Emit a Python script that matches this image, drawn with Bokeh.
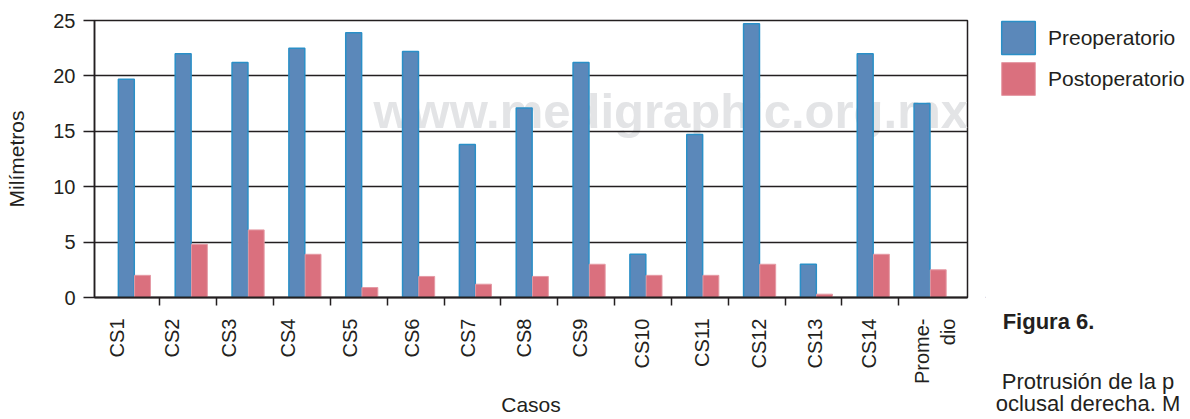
import math
import numpy as np
from bokeh.plotting import figure
from bokeh.layouts import row
from bokeh.models import (Range1d, FixedTicker, SingleIntervalTicker, Legend,
                          LegendItem, Label, ColumnDataSource)
from bokeh.embed import file_html
from bokeh.resources import INLINE

# ---------------- data ----------------
categories = ["CS1", "CS2", "CS3", "CS4", "CS5", "CS6", "CS7", "CS8", "CS9",
              "CS10", "CS11", "CS12", "CS13", "CS14", "Prome-\ndio"]
preoperatorio = [19.7, 22.0, 21.2, 22.5, 23.9, 22.2, 13.8, 17.1, 21.2,
                 3.9, 14.7, 24.7, 3.0, 22.0, 17.5]
postoperatorio = [2.0, 4.8, 6.1, 3.9, 0.9, 1.9, 1.2, 1.9, 3.0,
                  2.0, 2.0, 3.0, 0.3, 3.9, 2.5]
series_names = ["Preoperatorio", "Postoperatorio"]
caption_title = "Figura 6."
caption_lines = ["Protrusión de la p", "oclusal derecha. M"]

# ---------------- layout / style ----------------
label_offsets = [0.25, 0.22, 0.21, 0.26, 0.35, 0.43, 0.43, 0.41, 0.39,
                 0.48, 0.54, 0.54, 0.52, 0.48, 0.64]
FONT = "Liberation Sans"
TXT = "#231f20"
BLUE, BLUE_LINE = "#5b88ba", "#2a8fc7"
PINK, PINK_LINE = "#da707e", "#e59aa5"
H = 419
W1 = 985                                   # main chart width
W2 = 1190 - W1                             # side figure (legend + caption)
FL, FR, FT, FB = 94, 967, 20, 306          # frame edges in pixels
X0, X1 = -0.15, 15.21

def px_x(px):   # pixel column -> data x of main chart
    return X0 + (px - FL) * (X1 - X0) / (FR - FL)

def px_y(py):   # pixel row -> data y of main chart
    return (FB - py) * 25.0 / (FB - FT)

n = len(categories)
idx = np.arange(n)
src = ColumnDataSource(dict(x_pre=idx + 0.41, x_post=idx + 0.695,
                            pre=preoperatorio, post=postoperatorio))

p = figure(width=W1, height=H, x_range=Range1d(X0, X1),
           y_range=Range1d(0, 25), output_backend="svg", toolbar_location=None,
           title=None,
           min_border_left=FL, min_border_right=W1 - FR, min_border_top=FT,
           min_border_bottom=H - FB)
p.background_fill_color = "white"
p.border_fill_color = "white"
p.outline_line_color = TXT
p.outline_line_width = 1.5

# watermark (behind everything)
p.add_layout(Label(x=px_x(373), y=px_y(113),
                   text="www.medigraphic.org.mx",
                   text_font=FONT,
                   text_font_style="bold", text_font_size="49px",
                   text_color="#e3e4e6", text_baseline="alphabetic",
                   level="image"))

r1 = p.vbar(x="x_pre", top="pre", width=0.28, source=src,
            fill_color=BLUE, line_color=BLUE_LINE, line_width=1.5)
r2 = p.vbar(x="x_post", top="post", width=0.28, source=src,
            fill_color=PINK, line_color=PINK_LINE, line_width=1)

# grid
p.xgrid.visible = False
p.ygrid.grid_line_color = TXT
p.ygrid.grid_line_width = 1.5

# y axis
yax = p.yaxis[0]
yax.ticker = SingleIntervalTicker(interval=5)
yax.major_tick_out = 11
yax.major_tick_in = 0
yax.minor_tick_out = 0
yax.minor_tick_in = 0
yax.major_tick_line_color = TXT
yax.major_tick_line_width = 1.5
yax.axis_line_color = TXT
yax.axis_line_width = 1.5
yax.major_label_text_font = FONT
yax.major_label_text_font_size = "20px"
yax.major_label_text_color = TXT
yax.major_label_standoff = 8
yax.axis_label = "Milímetros"
yax.axis_label_text_font = FONT
yax.axis_label_text_font_size = "21px"
yax.axis_label_text_font_style = "normal"
yax.axis_label_text_color = TXT
yax.axis_label_standoff = 22

# x axis
ticks = [round(i + off, 3) for i, off in zip(idx.tolist(), label_offsets)]
xax = p.xaxis[0]
xax.ticker = FixedTicker(ticks=ticks, minor_ticks=list(range(1, n)))
xax.major_label_overrides = {t: c for t, c in zip(ticks, categories)}
xax.major_tick_out = 0
xax.major_tick_in = 0
xax.minor_tick_out = 8
xax.minor_tick_in = 0
xax.minor_tick_line_color = TXT
xax.minor_tick_line_width = 1.5
xax.axis_line_color = TXT
xax.axis_line_width = 2
xax.major_label_orientation = math.pi / 2
xax.major_label_standoff = 13
xax.major_label_text_font = FONT
xax.major_label_text_font_size = "20px"
xax.major_label_text_color = TXT
xax.axis_label = "Casos"
xax.axis_label_text_font = FONT
xax.axis_label_text_font_size = "21px"
xax.axis_label_text_font_style = "normal"
xax.axis_label_text_color = TXT
xax.axis_label_standoff = 6

# ---------------- side figure: legend + caption ----------------
s = figure(width=W2, height=H, x_range=Range1d(0, W2), y_range=Range1d(0, 1),
           output_backend="svg", toolbar_location=None, title=None,
           y_axis_type=None,
           min_border_left=0, min_border_right=0, min_border_top=FT,
           min_border_bottom=H - FB)
s.grid.visible = False
s.outline_line_color = None
s.background_fill_color = "white"
s.border_fill_color = "white"

# legend keys: one off-range placeholder each (never visible in the frame)
k1 = s.vbar(x=[-100], top=[0], width=1, fill_color=BLUE, line_color=BLUE_LINE,
            line_width=1.5)
k2 = s.vbar(x=[-100], top=[0], width=1, fill_color=PINK, line_color=PINK_LINE,
            line_width=1)
legend = Legend(items=[LegendItem(label=series_names[0], renderers=[k1]),
                       LegendItem(label=series_names[1], renderers=[k2])],
                location=(12, 198), orientation="vertical",
                glyph_width=42, glyph_height=41, label_standoff=9,
                spacing=0, padding=0, margin=0, border_line_color=None,
                background_fill_alpha=0, label_text_font=FONT,
                label_text_font_size="21px", label_text_color=TXT)
s.add_layout(legend)

# caption written with the side figure's (invisible) bottom axis
cap_tick = 1048 - W1
sax = s.xaxis[0]
sax.ticker = FixedTicker(ticks=[cap_tick], minor_ticks=[])
sax.major_label_overrides = {cap_tick: caption_title}
sax.axis_line_color = None
sax.major_tick_line_color = None
sax.minor_tick_line_color = None
sax.major_tick_out = 0
sax.major_tick_in = 0
sax.major_label_standoff = 11
sax.major_label_text_font = FONT
sax.major_label_text_font_style = "bold"
sax.major_label_text_font_size = "22px"
sax.major_label_text_color = TXT
sax.axis_label = "\n".join(caption_lines)
sax.axis_label_text_font = FONT
sax.axis_label_text_font_style = "normal"
sax.axis_label_text_font_size = "22px"
sax.axis_label_text_color = TXT
sax.axis_label_text_line_height = 0.9
sax.axis_label_standoff = 32

layout = row(p, s)
open("out.html", "w").write(file_html(layout, INLINE))
